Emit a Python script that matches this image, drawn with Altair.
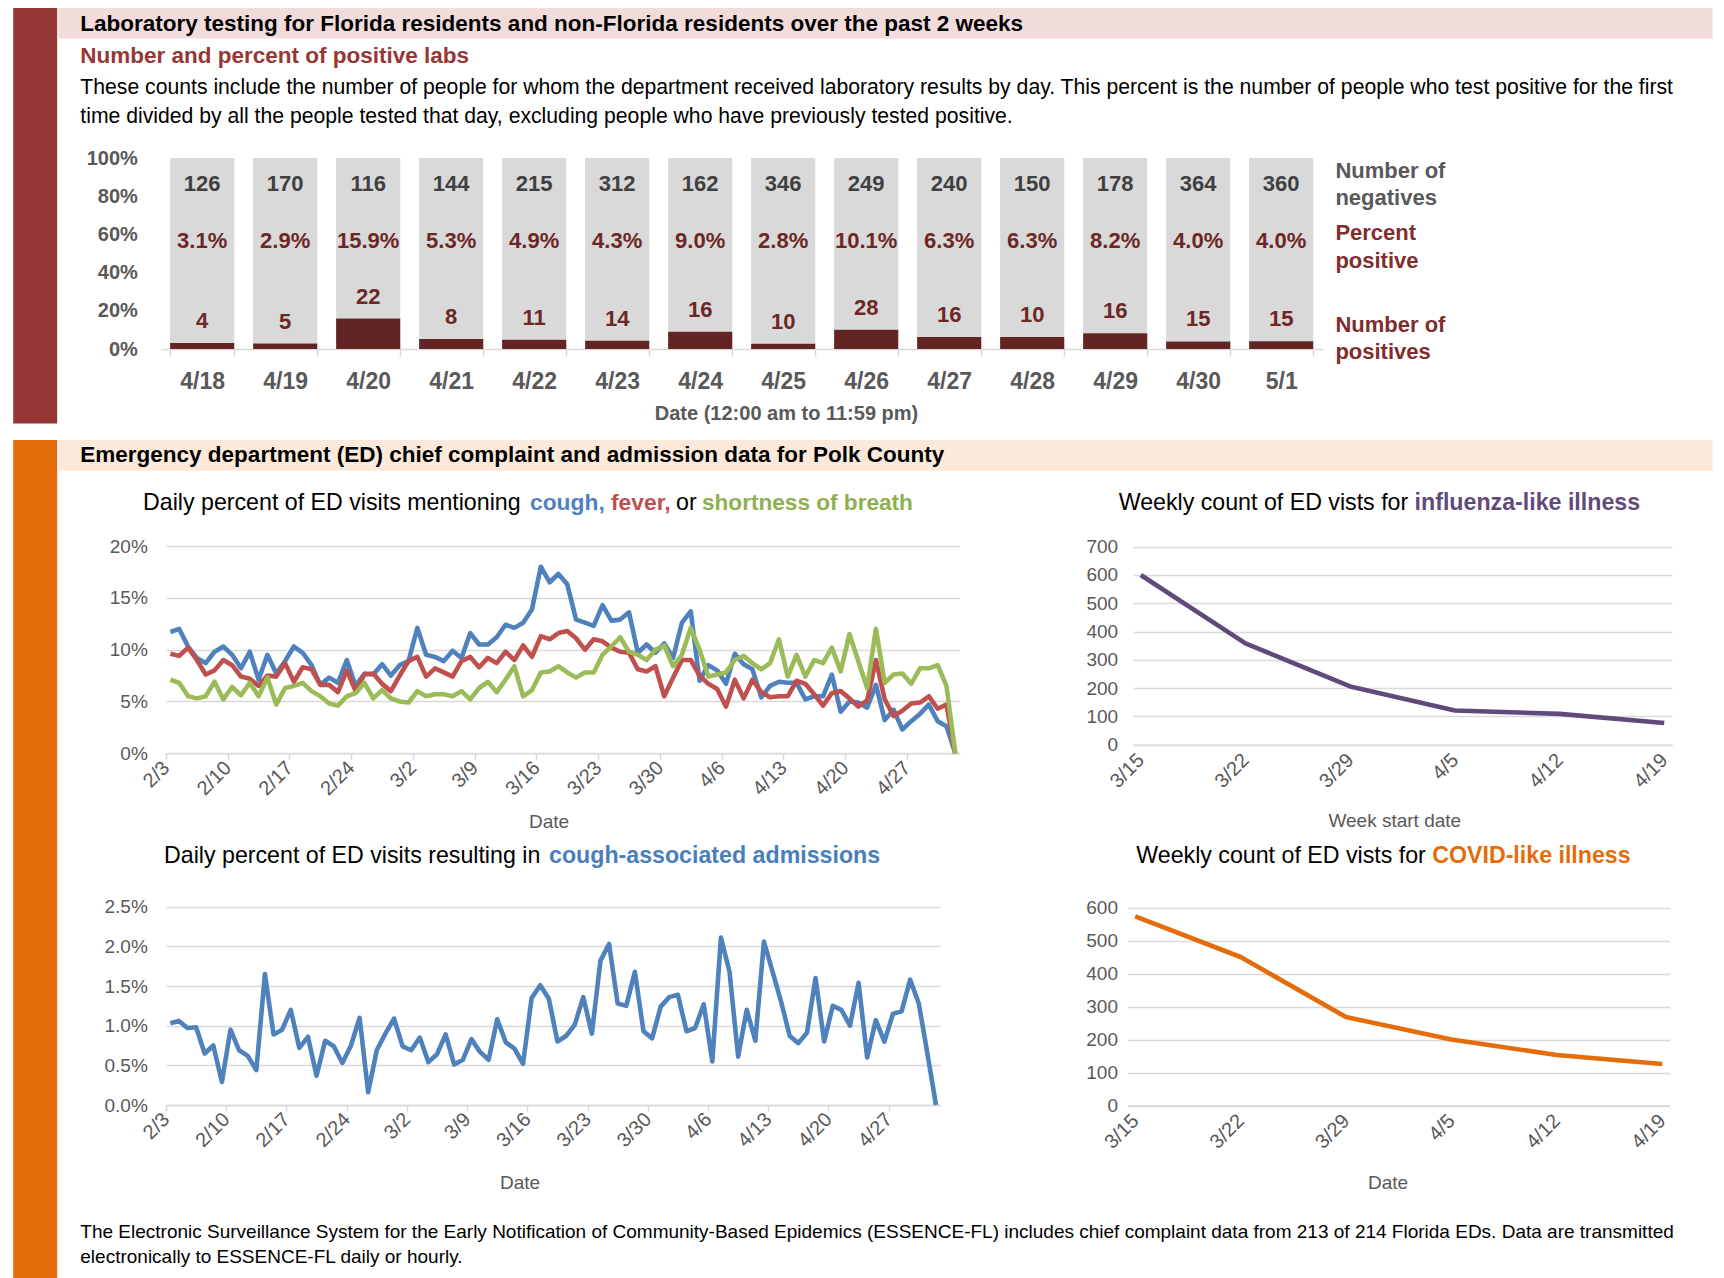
import json
import altair as alt
import pandas as pd

FONT = "Liberation Sans"

# ---------------- data ----------------
lab_dates = ["4/18", "4/19", "4/20", "4/21", "4/22", "4/23", "4/24",
             "4/25", "4/26", "4/27", "4/28", "4/29", "4/30", "5/1"]
lab_negatives = [126, 170, 116, 144, 215, 312, 162, 346, 249, 240, 150, 178, 364, 360]
lab_positives = [4, 5, 22, 8, 11, 14, 16, 10, 28, 16, 10, 16, 15, 15]

ed_tick_labels = ["2/3", "2/10", "2/17", "2/24", "3/2", "3/9", "3/16",
                  "3/23", "3/30", "4/6", "4/13", "4/20", "4/27"]

cough_pct = [11.7, 12.0, 10.3, 9.2, 8.7, 9.8, 10.3, 9.5, 8.2, 9.8, 7.1, 9.5, 7.7, 8.9, 10.3,
             9.7, 8.5, 6.6, 7.3, 6.8, 9.0, 6.5, 7.7, 7.6, 8.6, 7.5, 8.5, 8.9, 12.1, 9.5,
             9.3, 8.9, 9.9, 9.2, 11.6, 10.5, 10.5, 11.2, 12.4, 12.1, 12.6, 13.9, 18.0, 16.5,
             17.3, 16.3, 12.9, 12.6, 12.3, 14.3, 12.8, 12.9, 13.6, 9.7, 10.5, 9.7, 10.6, 9.2,
             12.6, 13.7, 7.0, 8.5, 8.0, 6.7, 9.6, 8.6, 8.1, 5.4, 6.5, 6.9, 6.8, 6.8, 5.2, 5.5,
             5.5, 7.6, 4.0, 5.0, 4.9, 4.4, 6.6, 3.2, 4.2, 2.3, 3.1, 3.8, 4.7, 3.1, 2.6, 0.0]
fever_pct = [9.6, 9.4, 10.2, 9.0, 7.6, 8.0, 9.0, 8.5, 7.4, 7.2, 6.5, 7.5, 7.4, 8.7, 6.9,
             8.3, 8.1, 6.6, 6.6, 5.9, 8.0, 6.0, 7.6, 7.7, 6.7, 6.0, 7.5, 8.9, 9.3, 7.4,
             8.2, 7.8, 7.4, 8.9, 9.3, 8.3, 9.2, 8.7, 9.8, 9.0, 10.4, 9.3, 11.3, 11.0, 11.6,
             11.8, 11.1, 10.0, 11.0, 10.8, 10.2, 9.8, 9.7, 8.1, 7.9, 8.4, 5.5, 7.3, 9.0, 9.0,
             7.5, 6.7, 6.2, 4.5, 7.1, 5.3, 7.1, 5.9, 5.4, 5.5, 5.5, 7.0, 6.7, 5.7, 4.6, 5.8,
             6.0, 5.3, 4.5, 5.1, 9.0, 5.2, 3.6, 4.1, 4.8, 4.9, 5.5, 4.3, 4.7, 0.0]
sob_pct = [7.1, 6.8, 5.5, 5.3, 5.5, 6.9, 5.2, 6.4, 5.6, 6.8, 5.5, 7.3, 4.7, 6.3, 6.5,
           6.8, 6.0, 5.5, 4.8, 4.6, 5.5, 5.8, 6.8, 5.3, 6.1, 5.3, 5.0, 4.9, 6.0, 5.5,
           5.7, 5.7, 5.5, 6.0, 5.2, 6.3, 6.9, 5.9, 7.1, 8.4, 5.5, 6.1, 7.8, 7.9, 8.4,
           7.8, 7.3, 7.8, 7.8, 9.5, 10.3, 11.2, 9.8, 9.5, 9.0, 10.0, 10.4, 8.4, 9.5, 12.1,
           10.0, 7.4, 7.6, 7.8, 9.0, 9.4, 8.7, 8.1, 8.7, 11.0, 7.4, 9.5, 7.4, 9.0, 8.7,
           10.2, 7.9, 11.5, 8.9, 6.3, 12.0, 6.8, 7.6, 7.7, 6.7, 8.2, 8.2, 8.5, 6.5, 0.0]
admit_pct = [1.03, 1.06, 0.97, 0.98, 0.65, 0.75, 0.29, 0.95, 0.69, 0.62, 0.44, 1.65, 0.89,
             0.95, 1.20, 0.72, 0.86, 0.37, 0.81, 0.74, 0.53, 0.75, 1.10, 0.16, 0.69, 0.90,
             1.09, 0.74, 0.69, 0.85, 0.54, 0.64, 0.89, 0.51, 0.57, 0.83, 0.67, 0.57, 1.08,
             0.79, 0.71, 0.52, 1.35, 1.51, 1.34, 0.80, 0.87, 1.01, 1.36, 0.90, 1.82, 2.03,
             1.28, 1.25, 1.68, 0.93, 0.84, 1.24, 1.36, 1.39, 0.93, 0.97, 1.27, 0.55, 2.11,
             1.68, 0.61, 1.20, 0.81, 2.06, 1.68, 1.30, 0.87, 0.78, 0.91, 1.60, 0.80, 1.25,
             1.20, 1.00, 1.54, 0.60, 1.07, 0.80, 1.15, 1.18, 1.58, 1.28, 0.65, 0.0]

weeks = ["3/15", "3/22", "3/29", "4/5", "4/12", "4/19"]
ili_counts = [600, 358, 206, 121, 109, 77]
cli_counts = [573, 450, 268, 200, 153, 126]

# ---------------- layout constants ----------------
W, H = 1708, 1270
GRAY_TXT = "#595959"
GRID = "#D9D9D9"
DARK_RED = "#632523"
LINE_W = 4.6


def rect(x0, x1, y0, y1, color):
    return alt.Chart(pd.DataFrame({"k": [0]})).mark_rect(color=color).encode(
        x=alt.value(x0), x2=alt.value(x1), y=alt.value(y0), y2=alt.value(y1))


def label(text, x, y, size, color="#000000", weight="normal", align="left"):
    return alt.Chart(pd.DataFrame({"t": [text]})).mark_text(
        align=align, baseline="middle", font=FONT, fontSize=size,
        fontWeight=weight, color=color).encode(
        x=alt.value(x), y=alt.value(y), text="t:N")


# ---------------- lab bar chart ----------------
lab_df = pd.DataFrame({"date": lab_dates, "neg": lab_negatives, "pos": lab_positives})
lab_base = alt.Chart(lab_df).transform_calculate(
    frac="datum.pos / (datum.pos + datum.neg)", full="1", neg_y="0.862", pct_y="0.565")

x_lab = alt.X("date:N", sort=lab_dates, title=None,
              scale=alt.Scale(domain=lab_dates, range=[152.7, 1314.7],
                              paddingInner=0.227, paddingOuter=0.1135),
              axis=alt.Axis(orient="bottom", offset=341 - H, labelAngle=0, labelFont=FONT,
                            labelFontSize=23, labelFontWeight="bold", labelColor=GRAY_TXT,
                            labelPadding=25, labelBaseline="middle", domainColor=GRID,
                            domainWidth=1.5, tickColor=GRID, tickWidth=1.5, tickSize=7,
                            tickBand="extent", grid=False))
y_lab_scale = alt.Scale(domain=[0, 1], range=[341, 150], nice=False)
y_lab_axis = alt.Axis(orient="left", offset=-152.7, values=[0, 0.2, 0.4, 0.6, 0.8, 1.0],
                      format=".0%", domain=False, ticks=False, grid=False, labelFont=FONT,
                      labelFontSize=20, labelFontWeight="bold", labelColor=GRAY_TXT,
                      labelPadding=23.4)


def y_lab(field):
    return alt.Y(field, title=None, scale=y_lab_scale, axis=y_lab_axis)


bars_neg = lab_base.mark_bar(color="#D9D9D9").encode(x=x_lab, y=y_lab("frac:Q"), y2="full:Q")
bars_pos = lab_base.mark_bar(color=DARK_RED).encode(x=x_lab, y=y_lab("frac:Q"))
txt_neg = lab_base.mark_text(font=FONT, fontSize=22, fontWeight="bold", color="#404040",
                             baseline="middle").encode(x=x_lab, y=y_lab("neg_y:Q"), text="neg:Q")
txt_pct = lab_base.mark_text(font=FONT, fontSize=22, fontWeight="bold", color="#6E2626",
                             baseline="middle").encode(
    x=x_lab, y=y_lab("pct_y:Q"), text=alt.Text("frac:Q", format=".1%"))
txt_pos = lab_base.mark_text(font=FONT, fontSize=22, fontWeight="bold", color="#6E2626",
                             baseline="middle", dy=-22).encode(
    x=x_lab, y=y_lab("frac:Q"), text="pos:Q")
lab_chart = alt.layer(bars_neg, bars_pos, txt_neg, txt_pct, txt_pos)

# ---------------- daily ED charts ----------------
n_days = len(cough_pct)
ed_df = pd.DataFrame({"day": list(range(n_days)), "cough": cough_pct, "fever": fever_pct,
                      "sob": sob_pct, "admit": admit_pct})
ed_base = alt.Chart(ed_df).transform_calculate(
    xc="datum.day + 0.5", cough_f="datum.cough / 100", fever_f="datum.fever / 100",
    sob_f="datum.sob / 100", admit_f="datum.admit / 100")
label_expr = json.dumps(ed_tick_labels) + "[round(datum.value / 7)]"


def ed_x(x_end, axis_y):
    return alt.X("xc:Q", title=None,
                 scale=alt.Scale(domain=[0, n_days], range=[158, x_end], nice=False, zero=False),
                 axis=alt.Axis(orient="bottom", offset=axis_y - H,
                               values=[7 * k for k in range(len(ed_tick_labels))],
                               labelExpr=label_expr, labelAngle=315, labelAlign="right",
                               labelBaseline="middle", labelPadding=5, labelFont=FONT,
                               labelFontSize=20, labelColor=GRAY_TXT, labelFlush=False,
                               labelOverlap=False, domainColor=GRID, domainWidth=1.5,
                               tickColor=GRID, tickWidth=1.5, tickSize=6, grid=False))


def ed_y(field, dom, rng, vals, fmt, offset, pad):
    return alt.Y(field, title=None,
                 scale=alt.Scale(domain=dom, range=rng, nice=False, zero=True),
                 axis=alt.Axis(orient="left", offset=offset, values=vals, format=fmt,
                               grid=True, gridColor=GRID, gridWidth=1.5, domain=False,
                               ticks=False, labelPadding=pad, labelFont=FONT,
                               labelFontSize=19, labelColor=GRAY_TXT))


xA = ed_x(951.7, 745.3)
valsA = [0, 0.05, 0.10, 0.15, 0.20]
lines_A = []
for fld, col in [("cough_f", "#4F81BD"), ("fever_f", "#C0504D"), ("sob_f", "#9BBB59")]:
    lines_A.append(ed_base.mark_line(color=col, strokeWidth=LINE_W, strokeJoin="round").encode(
        x=xA, y=ed_y(fld + ":Q", [0, 0.2], [745.3, 538], valsA, ".0%", -158, 18.7)))
chart_A = alt.layer(*lines_A)

xB = ed_x(932.3, 1097)
valsB = [0, 0.005, 0.01, 0.015, 0.02, 0.025]
chart_B = ed_base.mark_line(color="#4F81BD", strokeWidth=LINE_W, strokeJoin="round").encode(
    x=xB, y=ed_y("admit_f:Q", [0, 0.025], [1097, 898.7], valsB, ".1%", -158, 18.7))

# ---------------- weekly charts ----------------
wk_df = pd.DataFrame({"week": weeks, "ili": ili_counts, "cli": cli_counts})


def wk_x(rng, pad, axis_y):
    return alt.X("week:N", sort=weeks, title=None,
                 scale=alt.Scale(type="point", domain=weeks, range=rng, padding=pad),
                 axis=alt.Axis(orient="bottom", offset=axis_y - H, labelAngle=315,
                               labelAlign="right", labelBaseline="middle", labelPadding=12,
                               labelFont=FONT, labelFontSize=20, labelColor=GRAY_TXT,
                               domainColor=GRID, domainWidth=1.5, ticks=False, grid=False))


chart_C = alt.Chart(wk_df).mark_line(color="#604A7B", strokeWidth=LINE_W, strokeJoin="round").encode(
    x=wk_x([1125, 1664], 0.074, 736.7),
    y=ed_y("ili:Q", [0, 700], [736.7, 538.7], list(range(0, 701, 100)), "d", -1125, 15.4))
chart_D = alt.Chart(wk_df).mark_line(color="#E46C0A", strokeWidth=LINE_W, strokeJoin="round").encode(
    x=wk_x([1119.5, 1661.8], 0.073, 1097.5),
    y=ed_y("cli:Q", [0, 600], [1097.5, 899.5], list(range(0, 601, 100)), "d", -1119.5, 10))

# ---------------- decorations and text ----------------
deco = [
    rect(5.2, 49.2, 0, 415.5, "#953735"),
    rect(50.3, 1704.7, 0, 30.5, "#F2DCDB"),
    rect(5.2, 49.2, 432, 1270, "#E46C0A"),
    rect(50.3, 1704.7, 432, 462.8, "#FDE9D9"),
]
texts = [
    label("Laboratory testing for Florida residents and non-Florida residents over the past 2 weeks",
          72.3, 15.5, 22.5, weight="bold"),
    label("Number and percent of positive labs", 72.3, 48.1, 22.5, "#953735", "bold"),
    label("These counts include the number of people for whom the department received laboratory "
          "results by day. This percent is the number of people who test positive for the first",
          72.3, 80, 21.2),
    label("time divided by all the people tested that day, excluding people who have previously "
          "tested positive.", 72.3, 108.6, 21.2),
    label("Date (12:00 am to 11:59 pm)", 778.5, 405.6, 20, GRAY_TXT, "bold", "center"),
    label("Number of", 1327.4, 162.5, 22, GRAY_TXT, "bold"),
    label("negatives", 1327.4, 190, 22, GRAY_TXT, "bold"),
    label("Percent", 1327.4, 225.2, 22, "#7F2D2D", "bold"),
    label("positive", 1327.4, 252.7, 22, "#7F2D2D", "bold"),
    label("Number of", 1327.4, 316.5, 22, "#7F2D2D", "bold"),
    label("positives", 1327.4, 344, 22, "#7F2D2D", "bold"),
    label("Emergency department (ED) chief complaint and admission data for Polk County",
          72.3, 447.4, 22.5, weight="bold"),
    # chart A title
    label("Daily percent of ED visits mentioning", 135, 495, 23.2),
    label("cough,", 522, 495, 22.8, "#4F81BD", "bold"),
    label("fever,", 603, 495, 22.8, "#C0504D", "bold"),
    label("or", 668, 495, 23.2),
    label("shortness of breath", 694, 495, 22.6, "#8DB050", "bold"),
    # chart B title
    label("Daily percent of ED visits resulting in", 156, 848, 23.2),
    label("cough-associated admissions", 541, 848, 23.2, "#4A7EBB", "bold"),
    # chart C title
    label("Weekly count of ED vists for", 1110.7, 495, 23.2),
    label("influenza-like illness", 1406.6, 495, 23.2, "#604A7B", "bold"),
    # chart D title
    label("Weekly count of ED vists for", 1128.3, 848, 23.2),
    label("COVID-like illness", 1424.2, 848, 23.2, "#E46C0A", "bold"),
    # axis titles
    label("Date", 541, 813.5, 19, GRAY_TXT, align="center"),
    label("Date", 512, 1174.5, 19, GRAY_TXT, align="center"),
    label("Week start date", 1386.8, 812.6, 19, GRAY_TXT, align="center"),
    label("Date", 1380, 1174.5, 19, GRAY_TXT, align="center"),
    # footer
    label("The Electronic Surveillance System for the Early Notification of Community-Based "
          "Epidemics (ESSENCE-FL) includes chief complaint data from 213 of 214 Florida EDs. "
          "Data are transmitted", 72.3, 1224, 19),
    label("electronically to ESSENCE-FL daily or hourly.", 72.3, 1249.3, 19),
]

chart = alt.layer(
    *deco, lab_chart, chart_A, chart_B, chart_C, chart_D, *texts
).resolve_scale(
    x="independent", y="independent"
).resolve_axis(
    x="independent", y="independent"
).properties(
    width=W, height=H, autosize=alt.AutoSizeParams(type="none"), padding=0
).configure(
    font=FONT
).configure_view(
    stroke=None
)

chart.save("out.html", embed_options={"renderer": "svg", "actions": False})
